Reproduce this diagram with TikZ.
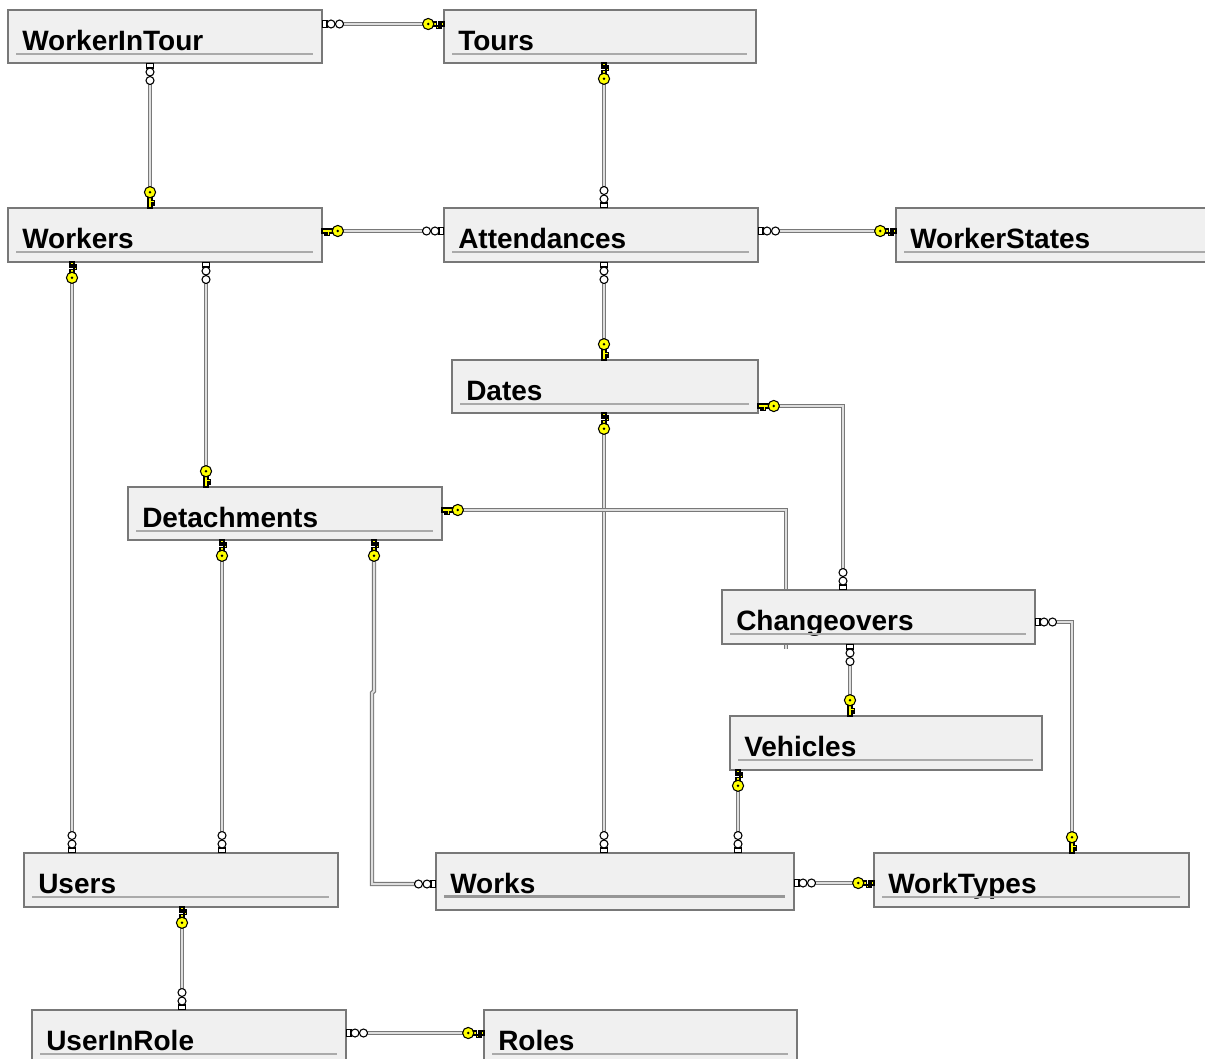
\documentclass[tikz,border=0pt]{standalone}
\usepackage{fontspec}
\setmainfont{Liberation Sans}
\usetikzlibrary{calc}
\definecolor{boxfill}{RGB}{240,240,240}
\definecolor{boxdraw}{RGB}{120,120,120}
\definecolor{uline}{RGB}{170,170,170}
\definecolor{ulineb}{RGB}{150,150,150}
\definecolor{relline}{RGB}{120,120,120}
\definecolor{relin}{RGB}{222,222,222}
\definecolor{keyyel}{RGB}{255,255,0}
\pgfdeclarelayer{bg}
\pgfsetlayers{bg,main}
\newcommand\tbl[7]{%
  \node[tblbox, minimum width=#4*0.75pt, minimum height=#5*0.75pt] (#1) at (#2,#3) {};
  \node[tbltitle] (#1-t) at ($(#1.north west)+(14,40)$) {#6};
  \draw[#7] ($(#1.north west)+(8,43.5)$) -- ($(#1.north east)+(-9,43.5)$);
}
\begin{document}
\begin{tikzpicture}[x=0.75pt,y=-0.75pt,
  tblbox/.style={draw=boxdraw, fill=boxfill, line width=1.5pt, anchor=north west, inner sep=0pt, outer sep=0pt},
  tbltitle/.style={anchor=base west, inner sep=0pt, font=\bfseries\fontsize{21}{24}\selectfont},
  tblline/.style={draw=uline, line width=1.5pt},
  tbllineb/.style={draw=ulineb, line width=2.25pt},
  rel/.style={draw=relline, line width=0.9pt, double=relin, double distance=1.5pt},
  sk/.style={shorten <=15pt},
  sm/.style={shorten <=15.5pt},
  ek/.style={shorten >=15pt},
  em/.style={shorten >=15.5pt},
  keysym/.pic={
    \filldraw[fill=keyyel, draw=black, line width=0.8pt]
      (0,-2) -- (10.5,-2) -- (10.5,2) -- (7.2,2) -- (7.2,#1*4.8) -- (5.6,#1*4.8) -- (5.6,2)
      -- (4,2) -- (4,#1*4.8) -- (2.4,#1*4.8) -- (2.4,2) -- (0,2) -- cycle;
    \filldraw[fill=keyyel, draw=black, line width=0.8pt] (15.8,0) circle (5.6);
    \fill[black] (15.8,0) circle (1.4);
  },
  many/.pic={
    \filldraw[fill=white, draw=black, line width=0.8pt] (0.6,-3.6) rectangle (5,3.6);
    \filldraw[fill=white, draw=black, line width=0.8pt] (9,0) circle (4);
    \filldraw[fill=white, draw=black, line width=0.8pt] (17.5,0) circle (4);
  }
]
\useasboundingbox (0,0) rectangle (1205,1058);
\clip (0,0) rectangle (1205,1058);

% tables
\tbl{WIT}{8}{10}{314}{53}{WorkerInTour}{tblline}
\tbl{Tours}{444}{10}{312}{53}{Tours}{tblline}
\tbl{Workers}{8}{208}{314}{54}{Workers}{tblline}
\tbl{Att}{444}{208}{314}{54}{Attendances}{tblline}
\tbl{WS}{896}{208}{330}{54}{WorkerStates}{tblline}
\tbl{Dates}{452}{360}{306}{53}{Dates}{tblline}
\tbl{Det}{128}{487}{314}{53}{Detachments}{tblline}
\tbl{Chg}{722}{590}{313}{54}{Changeovers}{tblline}
\tbl{Veh}{730}{716}{312}{54}{Vehicles}{tblline}
\tbl{Users}{24}{853}{314}{54}{Users}{tblline}
\tbl{Works}{436}{853}{358}{57}{Works}{tbllineb}
\tbl{WT}{874}{853}{315}{54}{WorkTypes}{tblline}
\tbl{UIR}{32}{1010}{314}{60}{UserInRole}{tblline}
\tbl{Roles}{484}{1010}{313}{60}{Roles}{tblline}

% connection points
\coordinate (a1) at ($(WIT.north east)+(0,14)$);   \coordinate (b1) at ($(Tours.north west)+(0,14)$);
\coordinate (a2) at ($(WIT.south west)+(142,0)$);  \coordinate (b2) at ($(Workers.north west)+(142,0)$);
\coordinate (a3) at ($(Tours.south west)+(160,0)$); \coordinate (b3) at ($(Att.north west)+(160,0)$);
\coordinate (a4) at ($(Workers.north east)+(0,23)$); \coordinate (b4) at ($(Att.north west)+(0,23)$);
\coordinate (a5) at ($(Att.north east)+(0,23)$);   \coordinate (b5) at ($(WS.north west)+(0,23)$);
\coordinate (a6) at ($(Att.south west)+(160,0)$);  \coordinate (b6) at ($(Dates.north west)+(152,0)$);
\coordinate (a7) at ($(Workers.south west)+(64,0)$); \coordinate (b7) at ($(Users.north west)+(48,0)$);
\coordinate (a8) at ($(Workers.south west)+(198,0)$); \coordinate (b8) at ($(Det.north west)+(78,0)$);
\coordinate (a9) at ($(Dates.south west)+(152,0)$); \coordinate (b9) at ($(Works.north west)+(168,0)$);
\coordinate (a10) at ($(Dates.north east)+(0,46)$); \coordinate (b10) at ($(Chg.north west)+(121,0)$);
\coordinate (a11) at ($(Det.north east)+(0,23)$);  \coordinate (b11) at ($(Chg.south west)+(64,5)$);
\coordinate (a12) at ($(Det.south west)+(94,0)$);  \coordinate (b12) at ($(Users.north west)+(198,0)$);
\coordinate (a13) at ($(Det.south west)+(246,0)$); \coordinate (b13) at ($(Works.north west)+(0,31)$);
\coordinate (a14) at ($(Chg.south west)+(128,0)$); \coordinate (b14) at ($(Veh.north west)+(120,0)$);
\coordinate (a15) at ($(Chg.north east)+(0,32)$);  \coordinate (b15) at ($(WT.north west)+(198,0)$);
\coordinate (a16) at ($(Veh.south west)+(8,0)$);   \coordinate (b16) at ($(Works.north west)+(302,0)$);
\coordinate (a17) at ($(Works.north east)+(0,30)$); \coordinate (b17) at ($(WT.north west)+(0,30)$);
\coordinate (a18) at ($(Users.south west)+(158,0)$); \coordinate (b18) at ($(UIR.north west)+(150,0)$);
\coordinate (a19) at ($(UIR.north east)+(0,23)$);  \coordinate (b19) at ($(Roles.north west)+(0,23)$);

\begin{pgfonlayer}{bg}
\draw[rel,sm,ek] (a1) -- (b1);
\draw[rel,sm,ek] (a2) -- (b2);
\draw[rel,sk,em] (a3) -- (b3);
\draw[rel,sk,em] (a4) -- (b4);
\draw[rel,sm,ek] (a5) -- (b5);
\draw[rel,sm,ek] (a6) -- (b6);
\draw[rel,sk,em] (a7) -- (b7);
\draw[rel,sm,ek] (a8) -- (b8);
\draw[rel,sk,em] (a9) -- (b9);
\draw[rel,sk,em] (a10) -| (b10);
\draw[rel,sk] (a11) -| (b11);
\draw[rel,sk,em] (a12) -- (b12);
\draw[rel,sk,em] (a13) -- ++(0,151) -- ++(-2,2) |- (b13);
\draw[rel,sm,ek] (a14) -- (b14);
\draw[rel,sm,ek] (a15) -| (b15);
\draw[rel,sk,em] (a16) -- (b16);
\draw[rel,sm,ek] (a17) -- (b17);
\draw[rel,sk,em] (a18) -- (b18);
\draw[rel,sm,ek] (a19) -- (b19);
\end{pgfonlayer}

% end symbols
\pic at (a1) {many};            \pic[rotate=180] at (b1) {keysym=-1};
\pic[rotate=-90] at (a2) {many}; \pic[rotate=90] at (b2) {keysym=1};
\pic[rotate=-90] at (a3) {keysym=-1}; \pic[rotate=90] at (b3) {many};
\pic at (a4) {keysym=1};        \pic[rotate=180] at (b4) {many};
\pic at (a5) {many};            \pic[rotate=180] at (b5) {keysym=-1};
\pic[rotate=-90] at (a6) {many}; \pic[rotate=90] at (b6) {keysym=1};
\pic[rotate=-90] at (a7) {keysym=-1}; \pic[rotate=90] at (b7) {many};
\pic[rotate=-90] at (a8) {many}; \pic[rotate=90] at (b8) {keysym=1};
\pic[rotate=-90] at (a9) {keysym=-1}; \pic[rotate=90] at (b9) {many};
\pic at (a10) {keysym=1};       \pic[rotate=90] at (b10) {many};
\pic at (a11) {keysym=1};
\pic[rotate=-90] at (a12) {keysym=-1}; \pic[rotate=90] at (b12) {many};
\pic[rotate=-90] at (a13) {keysym=-1}; \pic[rotate=180] at (b13) {many};
\pic[rotate=-90] at (a14) {many}; \pic[rotate=90] at (b14) {keysym=1};
\pic at (a15) {many};           \pic[rotate=90] at (b15) {keysym=1};
\pic[rotate=-90] at (a16) {keysym=-1}; \pic[rotate=90] at (b16) {many};
\pic at (a17) {many};           \pic[rotate=180] at (b17) {keysym=-1};
\pic[rotate=-90] at (a18) {keysym=-1}; \pic[rotate=90] at (b18) {many};
\pic at (a19) {many};           \pic[rotate=180] at (b19) {keysym=-1};
\end{tikzpicture}
\end{document}
